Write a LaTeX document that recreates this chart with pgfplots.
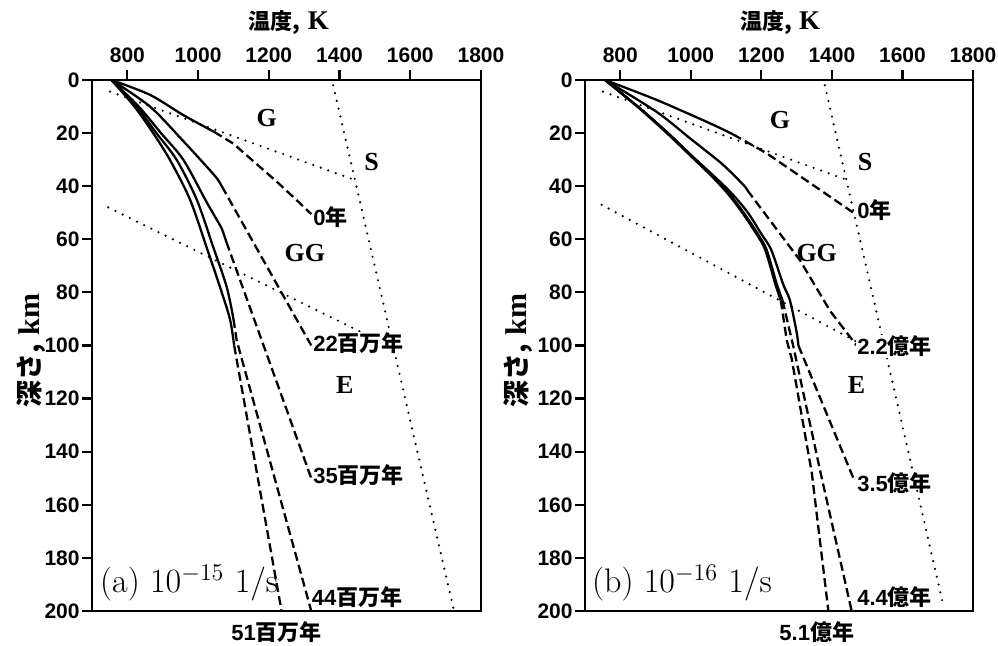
\documentclass[border=0pt]{standalone}
\usepackage{fontspec}
\usepackage{pgfplots}
\pgfplotsset{compat=1.18}
\newfontfamily\cjk{Noto Sans CJK JP}
\newfontfamily\lsans{Liberation Sans}
\newfontfamily\lserif{Liberation Serif}
\newcommand{\tickf}{\fontsize{10.5}{12}\selectfont\lsans\bfseries}
\newcommand{\clab}[2]{{\fontsize{11}{13}\selectfont\lsans\bfseries #1{\cjk\bfseries #2}}}
\newcommand{\reg}[1]{{\fontsize{13}{15}\selectfont\lserif\bfseries #1}}
\pgfplotsset{
  panel/.style={
    scale only axis, height=265.5pt,
    xmin=700, xmax=1800, ymin=0, ymax=200, y dir=reverse,
    xtick={800,1000,...,1800}, ytick={0,20,...,200},
    xtick pos=right, xticklabel pos=right, ytick pos=left,
    tick align=outside, major tick length=5pt,
    axis line style={line width=1.2pt},
    every tick/.style={black, line width=1.1pt},
    tick label style={font=\tickf},
    yticklabel style={inner xsep=1pt},
    /pgf/number format/assume math mode=true,
    /pgf/number format/1000 sep={},
    clip=false,
  },
  sol/.style={black, line width=1.15pt, no marks, smooth, tension=0.5},
  das/.style={black, line width=1.15pt, no marks, dash pattern=on 4.5pt off 2.2pt},
  dot/.style={black, line width=1.2pt, no marks, dash pattern=on 0pt off 4pt, line cap=round},
}
\begin{document}
\begin{tikzpicture}
\path[use as bounding box] (0,0) rectangle (499pt,323pt);
% ---------------- panel (a)
\begin{axis}[panel, width=194.5pt, at={(46pt,17.5pt)}, anchor=south west]
\addplot[dot] coordinates {(751,4.4) (1444,37.7)};
\addplot[dot] coordinates {(1382,2) (1722,199)};
\addplot[dot] coordinates {(746,48) (1553,101)};
% 0
\addplot[sol] coordinates {(755,0) (864,5.6) (958,13.2) (1045,19.5)};
\addplot[das] coordinates {(1045,19.5) (1100,24) (1147,29.5) (1220,38) (1288,46.4) (1320,50.5)};
% 22
\addplot[sol] coordinates {(755,0) (864,10) (958,23) (1020,32) (1053,37) (1067,40)};
\addplot[das] coordinates {(1067,40) (1320,100)};
% 35
\addplot[sol] coordinates {(755,0) (832,10) (895,20) (958,30) (1020,45) (1050,52) (1067,56) (1080,61)};
\addplot[das] coordinates {(1080,61) (1320,150)};
% 44
\addplot[sol] coordinates {(755,0) (826,10) (882,20) (939,30) (996,45) (1043,63) (1081,78) (1100,90)};
\addplot[das] coordinates {(1100,90) (1109,98) (1320,200)};
% 51
\addplot[sol] coordinates {(755,0) (820,10) (873,20) (920,30) (977,45) (1024,63) (1062,78) (1090,90) (1102,100)};
\addplot[das] coordinates {(1102,100) (1236,200)};
\node at (axis cs:1194,14.4) {\reg{G}};
\node at (axis cs:1491,30.8) {\reg{S}};
\node at (axis cs:1302,65.3) {\reg{GG}};
\node at (axis cs:1415,114.9) {\reg{E}};
\node[anchor=west, inner sep=0.5pt] at (axis cs:1322,51.5) {\clab{0}{年}};
\node[anchor=west, inner sep=0.5pt, fill=white] at (axis cs:1322,99.2) {\clab{22}{百万年}};
\node[anchor=west, inner sep=0.5pt] at (axis cs:1322,148.8) {\clab{35}{百万年}};
\node[anchor=west, inner sep=0.5pt] at (axis cs:1318,194.6) {\clab{44}{百万年}};
\node[yshift=-10.4pt] at (axis cs:1222,200) {\clab{51}{百万年}};
\node[anchor=west, inner sep=0pt] at (axis cs:722,189.5) {\fontsize{17}{20}\selectfont (a) 10$^{-15}$ 1/s};
\node[rotate=90] at (axis description cs:-0.157,0.49) {\fontsize{13.5}{15}\selectfont{\cjk\bfseries 深さ,} {\fontsize{15}{17}\selectfont\lserif\bfseries km}};
\node at (axis description cs:0.506,1.109) {\fontsize{11}{13}\selectfont{\cjk\bfseries 温度,} {\fontsize{13.5}{15}\selectfont\lserif\bfseries K}};
\end{axis}
% ---------------- panel (b)
\begin{axis}[panel, width=194pt, at={(292.5pt,17.5pt)}, anchor=south west]
\addplot[dot] coordinates {(751,4.4) (1444,37.7)};
\addplot[dot] coordinates {(1380,2) (1716,198)};
\addplot[dot] coordinates {(747,47) (1560,105)};
% 0
\addplot[sol] coordinates {(757,0) (903,7.5) (1054,16.3) (1120,20.5)};
\addplot[das] coordinates {(1120,20.5) (1215,27.6) (1461,50)};
% 2.2
\addplot[sol] coordinates {(757,0) (903,12) (998,22) (1040,26.4) (1092,32) (1149,39.5) (1160,41.5)};
\addplot[das] coordinates {(1160,41.5) (1310,68) (1395,87) (1470,100)};
% 3.5
\addplot[sol] coordinates {(757,0) (856,10.7) (935,20) (998,28) (1068,36.5) (1118,43) (1162,50) (1200,58) (1228,64) (1262,77) (1281,83) (1300,95) (1305,100)};
\addplot[das] coordinates {(1305,100) (1461,150)};
% 4.4
\addplot[sol] coordinates {(757,0) (856,10.7) (935,20) (998,28) (1065,36.5) (1110,43) (1150,50) (1190,58) (1215,64) (1243,76.6) (1260,83)};
\addplot[das] coordinates {(1260,83) (1290,100) (1368,148) (1456,200)};
% 5.1
\addplot[sol] coordinates {(757,0) (854,10.7) (932,20) (995,28) (1061,36.5) (1106,43) (1146,50) (1186,58) (1211,64) (1239,76.6) (1255,83)};
\addplot[das] coordinates {(1255,83) (1272,98) (1286,105) (1343,148) (1390,200)};
\node at (axis cs:1253,15.1) {\reg{G}};
\node at (axis cs:1494,30.8) {\reg{S}};
\node at (axis cs:1357,65.3) {\reg{GG}};
\node at (axis cs:1470,114.9) {\reg{E}};
\node[anchor=west, inner sep=0.5pt] at (axis cs:1468,49) {\clab{0}{年}};
\node[anchor=west, inner sep=0.5pt, fill=white] at (axis cs:1468,100.4) {\clab{2.2}{億年}};
\node[anchor=west, inner sep=0.5pt] at (axis cs:1468,151.9) {\clab{3.5}{億年}};
\node[anchor=west, inner sep=0.5pt] at (axis cs:1468,194.6) {\clab{4.4}{億年}};
\node[yshift=-10.4pt] at (axis cs:1357,200) {\clab{5.1}{億年}};
\node[anchor=west, inner sep=0pt] at (axis cs:719,189.5) {\fontsize{17}{20}\selectfont (b) 10$^{-16}$ 1/s};
\node[rotate=90] at (axis description cs:-0.173,0.49) {\fontsize{13.5}{15}\selectfont{\cjk\bfseries 深さ,} {\fontsize{15}{17}\selectfont\lserif\bfseries km}};
\node at (axis description cs:0.503,1.109) {\fontsize{11}{13}\selectfont{\cjk\bfseries 温度,} {\fontsize{13.5}{15}\selectfont\lserif\bfseries K}};
\end{axis}
\end{tikzpicture}
\end{document}
